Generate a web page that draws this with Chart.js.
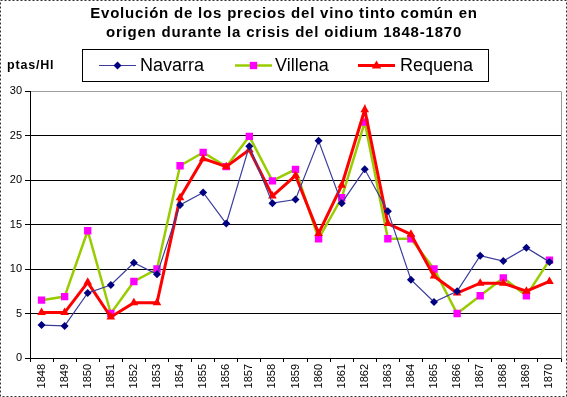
<!DOCTYPE html>
<html>
<head>
<meta charset="utf-8">
<script src="https://cdn.jsdelivr.net/npm/chart.js@4/dist/chart.umd.min.js"></script>
<style>
  html, body { margin: 0; padding: 0; background: #fff; }
  #wrap { width: 567px; height: 397px; position: relative; }
  canvas { display: block; }
</style>
</head>
<body>
<div id="wrap"><canvas id="c" width="567" height="397"></canvas></div>
<script>
const years = ['1848','1849','1850','1851','1852','1853','1854','1855','1856','1857','1858','1859','1860','1861','1862','1863','1864','1865','1866','1867','1868','1869','1870'];
const navarra = [3.7, 3.6, 7.3, 8.2, 10.7, 9.4, 17.2, 18.6, 15.1, 23.8, 17.4, 17.8, 24.4, 17.4, 21.2, 16.5, 8.8, 6.3, 7.5, 11.5, 10.9, 12.4, 10.8];
const villena = [6.5, 6.9, 14.3, 5.0, 8.6, 10.0, 21.6, 23.1, 21.5, 24.9, 19.9, 21.2, 13.4, 18.0, 26.5, 13.4, 13.4, 10.0, 5.0, 7.0, 9.0, 7.0, 11.0];
const requena = [5.1, 5.1, 8.5, 4.6, 6.2, 6.2, 18.0, 22.4, 21.5, 23.4, 18.2, 20.5, 14.0, 19.4, 27.9, 15.1, 13.9, 9.2, 7.3, 8.4, 8.4, 7.5, 8.6];
const yTicks = [0, 5, 10, 15, 20, 25, 30];
const titleLines = ['Evolución de los precios del vino tinto común en', 'origen durante la crisis del oidium 1848-1870'];
const unitLabel = 'ptas/Hl';
const seriesNames = ['Navarra', 'Villena', 'Requena'];

const FONT = '"Liberation Sans", Arial, sans-serif';

function drawMarker(ctx, style, x, y, r, color) {
  ctx.save();
  ctx.fillStyle = color;
  ctx.beginPath();
  if (style === 'rectRot') {
    ctx.moveTo(x - r, y); ctx.lineTo(x, y - r); ctx.lineTo(x + r, y); ctx.lineTo(x, y + r);
  } else if (style === 'rect') {
    const s = Math.SQRT1_2 * r;
    ctx.rect(x - s, y - s, 2 * s, 2 * s);
  } else if (style === 'triangle') {
    ctx.moveTo(x, y - r);
    ctx.lineTo(x + r * 0.95, y + r * 0.6);
    ctx.lineTo(x - r * 0.95, y + r * 0.6);
  }
  ctx.closePath();
  ctx.fill();
  ctx.restore();
}

const decor = {
  id: 'decor',
  afterDraw(chart) {
    const ctx = chart.ctx;
    const a = chart.chartArea;
    ctx.save();
    // plot area right border (gray)
    ctx.strokeStyle = '#9a9a9a';
    ctx.lineWidth = 1;
    ctx.beginPath();
    ctx.moveTo(Math.round(a.right) + 0.5, Math.round(a.top) + 0.5);
    ctx.lineTo(Math.round(a.right) + 0.5, Math.round(a.bottom) + 0.5);
    ctx.stroke();
    // outer dashed border
    ctx.strokeStyle = '#333';
    ctx.setLineDash([2, 2]);
    ctx.strokeRect(0.5, 0.5, 566, 396);
    ctx.setLineDash([]);
    // title
    ctx.fillStyle = '#000';
    ctx.textAlign = 'center';
    ctx.textBaseline = 'middle';
    ctx.font = 'bold 15px ' + FONT;
    try { ctx.letterSpacing = '0.8px'; } catch (e) {}
    ctx.fillText(titleLines[0], 284, 14);
    ctx.fillText(titleLines[1], 284, 32.5);
    // unit label
    ctx.textAlign = 'left';
    ctx.font = 'bold 12.5px ' + FONT;
    try { ctx.letterSpacing = '0.8px'; } catch (e) {}
    ctx.fillText(unitLabel, 7, 66);
    try { ctx.letterSpacing = '0px'; } catch (e) {}
    // legend box
    ctx.fillStyle = '#fff';
    ctx.fillRect(82, 49, 406, 32);
    ctx.strokeStyle = '#000';
    ctx.lineWidth = 1;
    ctx.strokeRect(82.5, 49.5, 406, 32);
    const ds = chart.data.datasets;
    const items = [
      {x: 99, tx: 140},
      {x: 235, tx: 275},
      {x: 358, tx: 400}
    ];
    ctx.font = '18px ' + FONT;
    ctx.textBaseline = 'middle';
    items.forEach((it, i) => {
      const d = ds[i];
      const y = 65.5;
      ctx.strokeStyle = d.borderColor;
      ctx.lineWidth = d.borderWidth;
      ctx.beginPath();
      ctx.moveTo(it.x, y);
      ctx.lineTo(it.x + 37, y);
      ctx.stroke();
      drawMarker(ctx, d.pointStyle, it.x + 18.5, y, d.pointRadius, d.pointBackgroundColor);
      ctx.fillStyle = '#000';
      ctx.fillText(d.label, it.tx, y + 1);
    });
    ctx.restore();
  }
};

new Chart(document.getElementById('c'), {
  type: 'line',
  data: {
    labels: years,
    datasets: [
      {
        label: seriesNames[0], data: navarra, order: 0,
        borderColor: '#3b3b9c', borderWidth: 1.2,
        pointStyle: 'rectRot', pointRadius: 4,
        pointBackgroundColor: '#000080', pointBorderColor: '#000080', pointBorderWidth: 0,
        tension: 0
      },
      {
        label: seriesNames[1], data: villena, order: 2,
        borderColor: '#99cc00', borderWidth: 2.5,
        pointStyle: 'rect', pointRadius: 5.2,
        pointBackgroundColor: '#ff00ff', pointBorderColor: '#ff00ff', pointBorderWidth: 0,
        tension: 0
      },
      {
        label: seriesNames[2], data: requena, order: 1,
        borderColor: '#ff0000', borderWidth: 3,
        pointStyle: 'triangle', pointRadius: 5,
        pointBackgroundColor: '#ff0000', pointBorderColor: '#ff0000', pointBorderWidth: 0,
        tension: 0
      }
    ]
  },
  options: {
    responsive: false,
    animation: false,
    layout: { padding: { left: 0, top: 91, right: 6, bottom: 0 } },
    plugins: {
      legend: { display: false },
      title: { display: false },
      tooltip: { enabled: false }
    },
    scales: {
      x: {
        type: 'category',
        offset: true,
        grid: { display: true, offset: true, drawOnChartArea: false, drawTicks: true, tickLength: 4, color: '#000' },
        border: { display: true, color: '#000', width: 1 },
        ticks: {
          autoSkip: false, maxRotation: 90, minRotation: 90,
          font: { family: FONT, size: 11 }, color: '#000', padding: 2
        },
        afterFit(s) { s.height = 39; }
      },
      y: {
        min: 0, max: 30,
        afterBuildTicks(s) { s.ticks = yTicks.map(v => ({ value: v })); },
        grid: {
          color: (c) => (c.tick && c.tick.value === 30) ? '#a0a0a0' : '#000',
          tickColor: '#000', tickLength: 5, drawTicks: true
        },
        border: { display: true, color: '#000', width: 1 },
        ticks: { font: { family: FONT, size: 11 }, color: '#000', padding: 3 },
        afterFit(s) { s.width = 30; }
      }
    }
  },
  plugins: [decor]
});
</script>
</body>
</html>
